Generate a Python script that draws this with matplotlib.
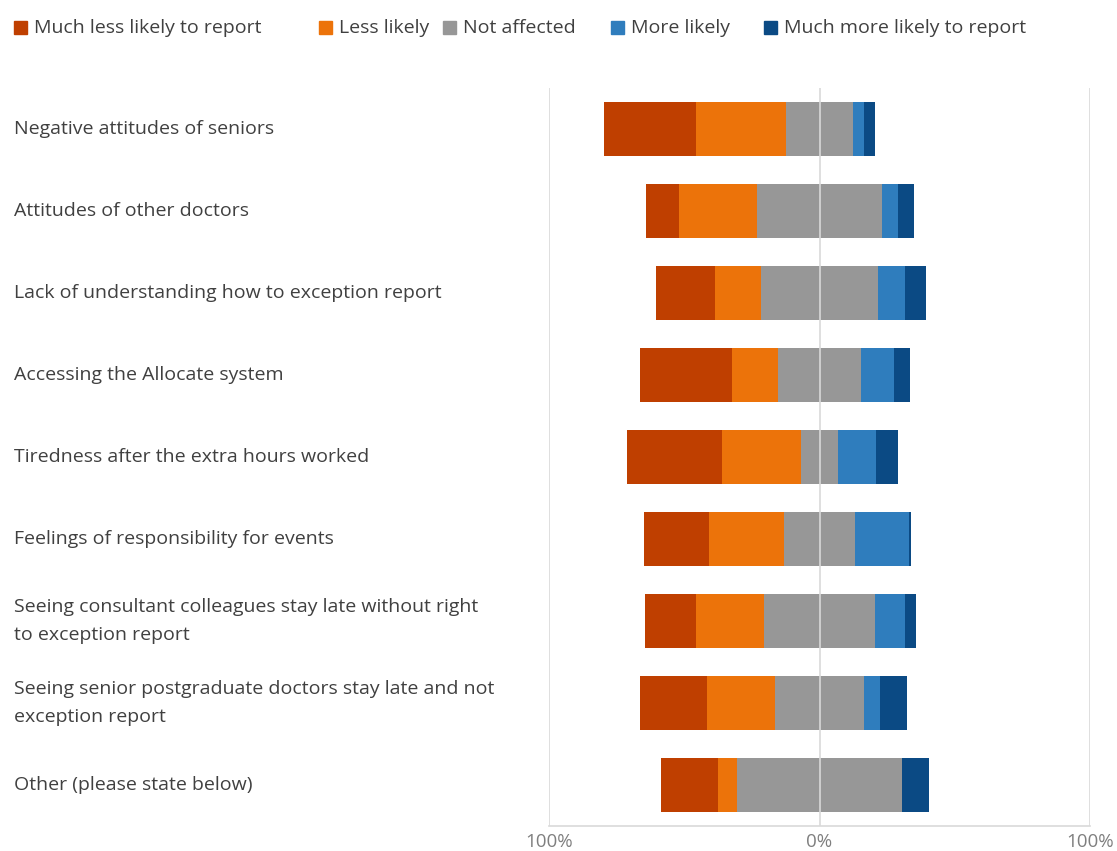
import matplotlib
matplotlib.use("Agg")
import matplotlib.pyplot as plt
import matplotlib.transforms as mtransforms
from matplotlib.patches import Rectangle
import numpy as np

plt.rcParams['font.family'] = ['Open Sans', 'DejaVu Sans']

categories = [
    "Negative attitudes of seniors",
    "Attitudes of other doctors",
    "Lack of understanding how to exception report",
    "Accessing the Allocate system",
    "Tiredness after the extra hours worked",
    "Feelings of responsibility for events",
    "Seeing consultant colleagues stay late without right\nto exception report",
    "Seeing senior postgraduate doctors stay late and not\nexception report",
    "Other (please state below)",
]

series_names = [
    "Much less likely to report",
    "Less likely",
    "Not affected",
    "More likely",
    "Much more likely to report",
]

much_less = [34, 12, 22, 34, 35, 24, 19, 25, 21]
less      = [33, 29, 17, 17, 29, 28, 25, 25, 7]
neutral   = [25, 46, 43, 31, 14, 26, 41, 33, 61]
more      = [4, 6, 10, 12, 14, 20, 11, 6, 0]
much_more = [4, 6, 8, 6, 8, 1, 4, 10, 10]

tick_values = [-100, 0, 100]
tick_labels = ["100%", "0%", "100%"]

colors = ["#BF3F00", "#EC730A", "#979797", "#2F7DBD", "#0B4A84"]
text_color = "#404040"
grid_color = "#D9D9D9"

W, H = 1117, 851
fig = plt.figure(figsize=(W / 100, H / 100), dpi=100)
ax = fig.add_axes([549 / W, 1 - 826 / H, (1090 - 549) / W, (826 - 88) / H])

series = np.array([much_less, less, neutral, more, much_more], dtype=float)
left = -(series[0] + series[1] + series[2] / 2.0)
y = np.arange(len(categories))

for vals, color, name in zip(series, colors, series_names):
    ax.barh(y, vals, left=left, height=0.67, color=color, edgecolor="none",
            label=name, zorder=3)
    left = left + vals

ax.set_xlim(-100, 100)
ax.set_ylim(len(categories) - 0.5, -0.5)

for s in ["top", "right", "left"]:
    ax.spines[s].set_visible(False)
ax.spines["bottom"].set_color(grid_color)
ax.spines["bottom"].set_linewidth(1.2)

for xv in tick_values:
    ax.axvline(xv, color=grid_color, linewidth=1.2, zorder=1 if xv != 0 else 4)

ax.set_yticks([])
ax.set_xticks(tick_values)
ax.set_xticklabels(tick_labels, color="#7F7F7F", fontsize=13.5)
ax.tick_params(axis="x", length=0, pad=5)

trans = mtransforms.blended_transform_factory(fig.transFigure, ax.transData)
for yi, cat in zip(y, categories):
    ax.text(14 / W, yi, cat, transform=trans, ha="left", va="center",
            fontsize=14, color=text_color, linespacing=1.7)

# Legend row across the top
legend_x = [14, 319, 443, 611, 764]
for xpx, color, name in zip(legend_x, colors, series_names):
    fig.patches.append(Rectangle((xpx / W, 1 - 34 / H), 13 / W, 13 / H,
                                 transform=fig.transFigure, color=color))
    fig.text((xpx + 20) / W, 1 - 28 / H, name, ha="left", va="center",
             fontsize=14, color=text_color)

fig.savefig("out.png", dpi=100, facecolor="white")
